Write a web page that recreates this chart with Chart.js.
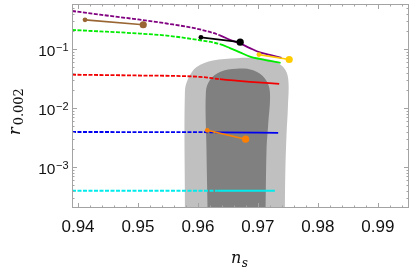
<!DOCTYPE html>
<html>
<head>
<meta charset="utf-8">
<script src="https://cdn.jsdelivr.net/npm/chart.js@4.4.0/dist/chart.umd.min.js"></script>
<style>
  html, body { margin: 0; padding: 0; background: #fff; }
  canvas { display: block; }
</style>
</head>
<body>
<canvas id="myChart" width="413" height="270"></canvas>
<script>
// axis ranges
const xMin = 0.939;
const xMax = 0.9952;
const yMin = 2.03e-4;
const yMax = 0.58;

const xTickValues = [0.94, 0.95, 0.96, 0.97, 0.98, 0.99];
const xTickLabels = ["0.94", "0.95", "0.96", "0.97", "0.98", "0.99"];
const yTickValues = [1e-1, 1e-2, 1e-3];
const yTickExponents = ["\u22121", "\u22122", "\u22123"];

// confidence regions (outer 95%, inner 68%)
const outerNs = [0.95783, 0.95783, 0.95838, 0.95978, 0.9625, 0.96645, 0.96917, 0.972, 0.97422, 0.97505, 0.975, 0.97478, 0.97458, 0.9745];
const outerR = [2.0e-4, 0.019, 0.0316, 0.0495, 0.064, 0.070, 0.0708, 0.0665, 0.0495, 0.0316, 0.01, 0.00364, 0.00088, 2.0e-4];
const innerNs = [0.9616, 0.96142, 0.96133, 0.962, 0.96367, 0.96645, 0.96922, 0.97117, 0.972, 0.97172, 0.97145, 0.97128];
const innerR = [2.0e-4, 0.00215, 0.019, 0.030, 0.041, 0.0464, 0.0436, 0.0316, 0.019, 0.00535, 0.00215, 2.0e-4];

// model curves
const purpleNs = [0.939, 0.94367, 0.94922, 0.95478, 0.96033, 0.96367, 0.96533, 0.967, 0.96867, 0.97033, 0.972, 0.97395];
const purpleR = [0.4416, 0.383, 0.325, 0.271, 0.2156, 0.171, 0.1435, 0.1245, 0.104, 0.088, 0.0795, 0.0708];
const greenNs = [0.939, 0.94367, 0.94917, 0.95478, 0.96033, 0.96367, 0.96533, 0.967, 0.96867, 0.97033, 0.972, 0.97378];
const greenR = [0.2104, 0.1995, 0.186, 0.169, 0.141, 0.121, 0.104, 0.088, 0.0747, 0.068, 0.063, 0.0584];
const redNs = [0.939, 0.94967, 0.96033, 0.96367, 0.96867, 0.97355];
const redR = [0.0368, 0.0357, 0.0338, 0.0309, 0.0279, 0.0258];
const blueNs = [0.939, 0.9633, 0.97338];
const blueR = [0.00394, 0.00389, 0.00379];
const cyanNs = [0.939, 0.9633, 0.97283];
const cyanR = [0.000398, 0.000398, 0.000398];

// where dashed part turns solid
const dashEnd = { purple: 0.9653, green: 0.9648, red: 0.9637, blue: 0.9633, cyan: 0.9633 };

// marked points (small, big)
const brownNs = [0.94117, 0.95088];
const brownR = [0.3126, 0.258];
const blackNs = [0.9605, 0.96705];
const blackR = [0.158, 0.131];
const goldNs = [0.97017, 0.97522];
const goldR = [0.0806, 0.0666];
const orangeNs = [0.96155, 0.96795];
const orangeR = [0.0042, 0.00297];

function toPoints(xs, ys) {
  return xs.map((x, i) => ({ x, y: ys[i] }));
}

function curve(xs, ys, color, cut) {
  return {
    data: toPoints(xs, ys),
    showLine: true,
    borderColor: color,
    borderWidth: 1.8,
    pointRadius: 0,
    cubicInterpolationMode: "monotone",
    segment: {
      borderDash: (ctx) => (ctx.p1.parsed.x <= cut + 1e-6 ? [4, 1.5] : undefined),
    },
    order: 5,
  };
}

function markers(xs, ys, color) {
  return {
    data: toPoints(xs, ys),
    showLine: true,
    borderColor: color,
    backgroundColor: color,
    borderWidth: 1.6,
    pointRadius: [2.4, 3.6],
    pointBorderWidth: 0,
    order: 1,
  };
}

function region(xs, ys, color, order) {
  return {
    data: toPoints(xs, ys),
    showLine: true,
    borderWidth: 0,
    borderColor: color,
    backgroundColor: color,
    pointRadius: 0,
    tension: 0.35,
    fill: "shape",
    order,
  };
}

const frameColor = "#a3a3a3";

const framePlugin = {
  id: "frame",
  afterDatasetsDraw(chart) {
    const { ctx, chartArea: a, scales } = chart;
    const x = scales.x;
    const y = scales.y;
    ctx.save();
    ctx.strokeStyle = frameColor;
    ctx.lineWidth = 1;
    ctx.strokeRect(a.left + 0.5, a.top + 0.5, a.right - a.left - 1, a.bottom - a.top - 1);

    ctx.beginPath();
    // x ticks, major + minor every 0.002
    for (let i = 0; i <= 27; i++) {
      const v = 0.94 + i * 0.002;
      if (v > xMax) break;
      const px = Math.round(x.getPixelForValue(v)) + 0.5;
      const len = i % 5 === 0 ? 5 : 2.5;
      ctx.moveTo(px, a.bottom);
      ctx.lineTo(px, a.bottom - len);
      ctx.moveTo(px, a.top);
      ctx.lineTo(px, a.top + len);
    }
    // y ticks, log
    for (let d = -4; d <= 0; d++) {
      for (let k = 1; k <= 9; k++) {
        const v = k * Math.pow(10, d);
        if (v < yMin || v > yMax) continue;
        const py = Math.round(y.getPixelForValue(v)) + 0.5;
        const len = k === 1 ? 5 : 2.5;
        ctx.moveTo(a.left, py);
        ctx.lineTo(a.left + len, py);
        ctx.moveTo(a.right, py);
        ctx.lineTo(a.right - len, py);
      }
    }
    ctx.stroke();
    ctx.restore();
  },
  afterDraw(chart) {
    const { ctx, scales } = chart;
    const x = scales.x;
    const y = scales.y;
    ctx.save();
    ctx.fillStyle = "#111";

    // x tick labels
    ctx.font = "17px 'Liberation Sans'";
    ctx.textAlign = "center";
    ctx.textBaseline = "alphabetic";
    xTickValues.forEach((v, i) => {
      ctx.fillText(xTickLabels[i], x.getPixelForValue(v), 231.5);
    });

    // y tick labels 10^n
    ctx.textAlign = "left";
    yTickValues.forEach((v, i) => {
      const py = y.getPixelForValue(v);
      ctx.font = "11px 'Liberation Sans'";
      const supW = ctx.measureText(yTickExponents[i]).width;
      ctx.font = "15.5px 'Liberation Sans'";
      const baseW = ctx.measureText("10").width;
      const right = 68.5;
      ctx.fillText("10", right - supW - baseW - 0.5, py + 7);
      ctx.font = "11px 'Liberation Sans'";
      ctx.fillText(yTickExponents[i], right - supW, py + 1.5);
    });

    // y axis title r_0.002
    ctx.save();
    ctx.translate(20, 135);
    ctx.rotate(-Math.PI / 2);
    ctx.font = "italic 16px 'DejaVu Serif'";
    ctx.fillText("r", 0, 0);
    const rW = ctx.measureText("r").width;
    ctx.font = "13px 'DejaVu Serif'";
    ctx.fillText("0.002", rW + 2, 2.5);
    ctx.restore();

    // x axis title n_s
    ctx.font = "italic 16px 'DejaVu Serif'";
    ctx.fillText("n", 231, 263);
    const nW = ctx.measureText("n").width;
    ctx.font = "italic 12px 'DejaVu Serif'";
    ctx.fillText("s", 231 + nW + 0.5, 267);
    ctx.restore();
  },
};

const config = {
  type: "scatter",
  data: {
    datasets: [
      region(outerNs, outerR, "rgb(192,192,192)", 10),
      region(innerNs, innerR, "rgb(128,128,128)", 9),
      curve(purpleNs, purpleR, "rgb(128,0,128)", dashEnd.purple),
      curve(greenNs, greenR, "rgb(0,235,0)", dashEnd.green),
      curve(redNs, redR, "rgb(240,0,0)", dashEnd.red),
      curve(blueNs, blueR, "rgb(0,0,240)", dashEnd.blue),
      curve(cyanNs, cyanR, "rgb(0,235,235)", dashEnd.cyan),
      markers(brownNs, brownR, "rgb(153,102,51)"),
      markers(blackNs, blackR, "#000"),
      markers(goldNs, goldR, "rgb(255,204,0)"),
      markers(orangeNs, orangeR, "rgb(255,128,0)"),
    ],
  },
  options: {
    responsive: false,
    animation: false,
    devicePixelRatio: 1,
    layout: { padding: { left: 72, right: 4, top: 1, bottom: 62 } },
    scales: {
      x: { type: "linear", min: xMin, max: xMax, display: false },
      y: { type: "logarithmic", min: yMin, max: yMax, display: false },
    },
    plugins: { legend: { display: false }, tooltip: { enabled: false } },
  },
  plugins: [framePlugin],
};

let myChart = new Chart(document.getElementById("myChart"), config);
</script>
</body>
</html>
